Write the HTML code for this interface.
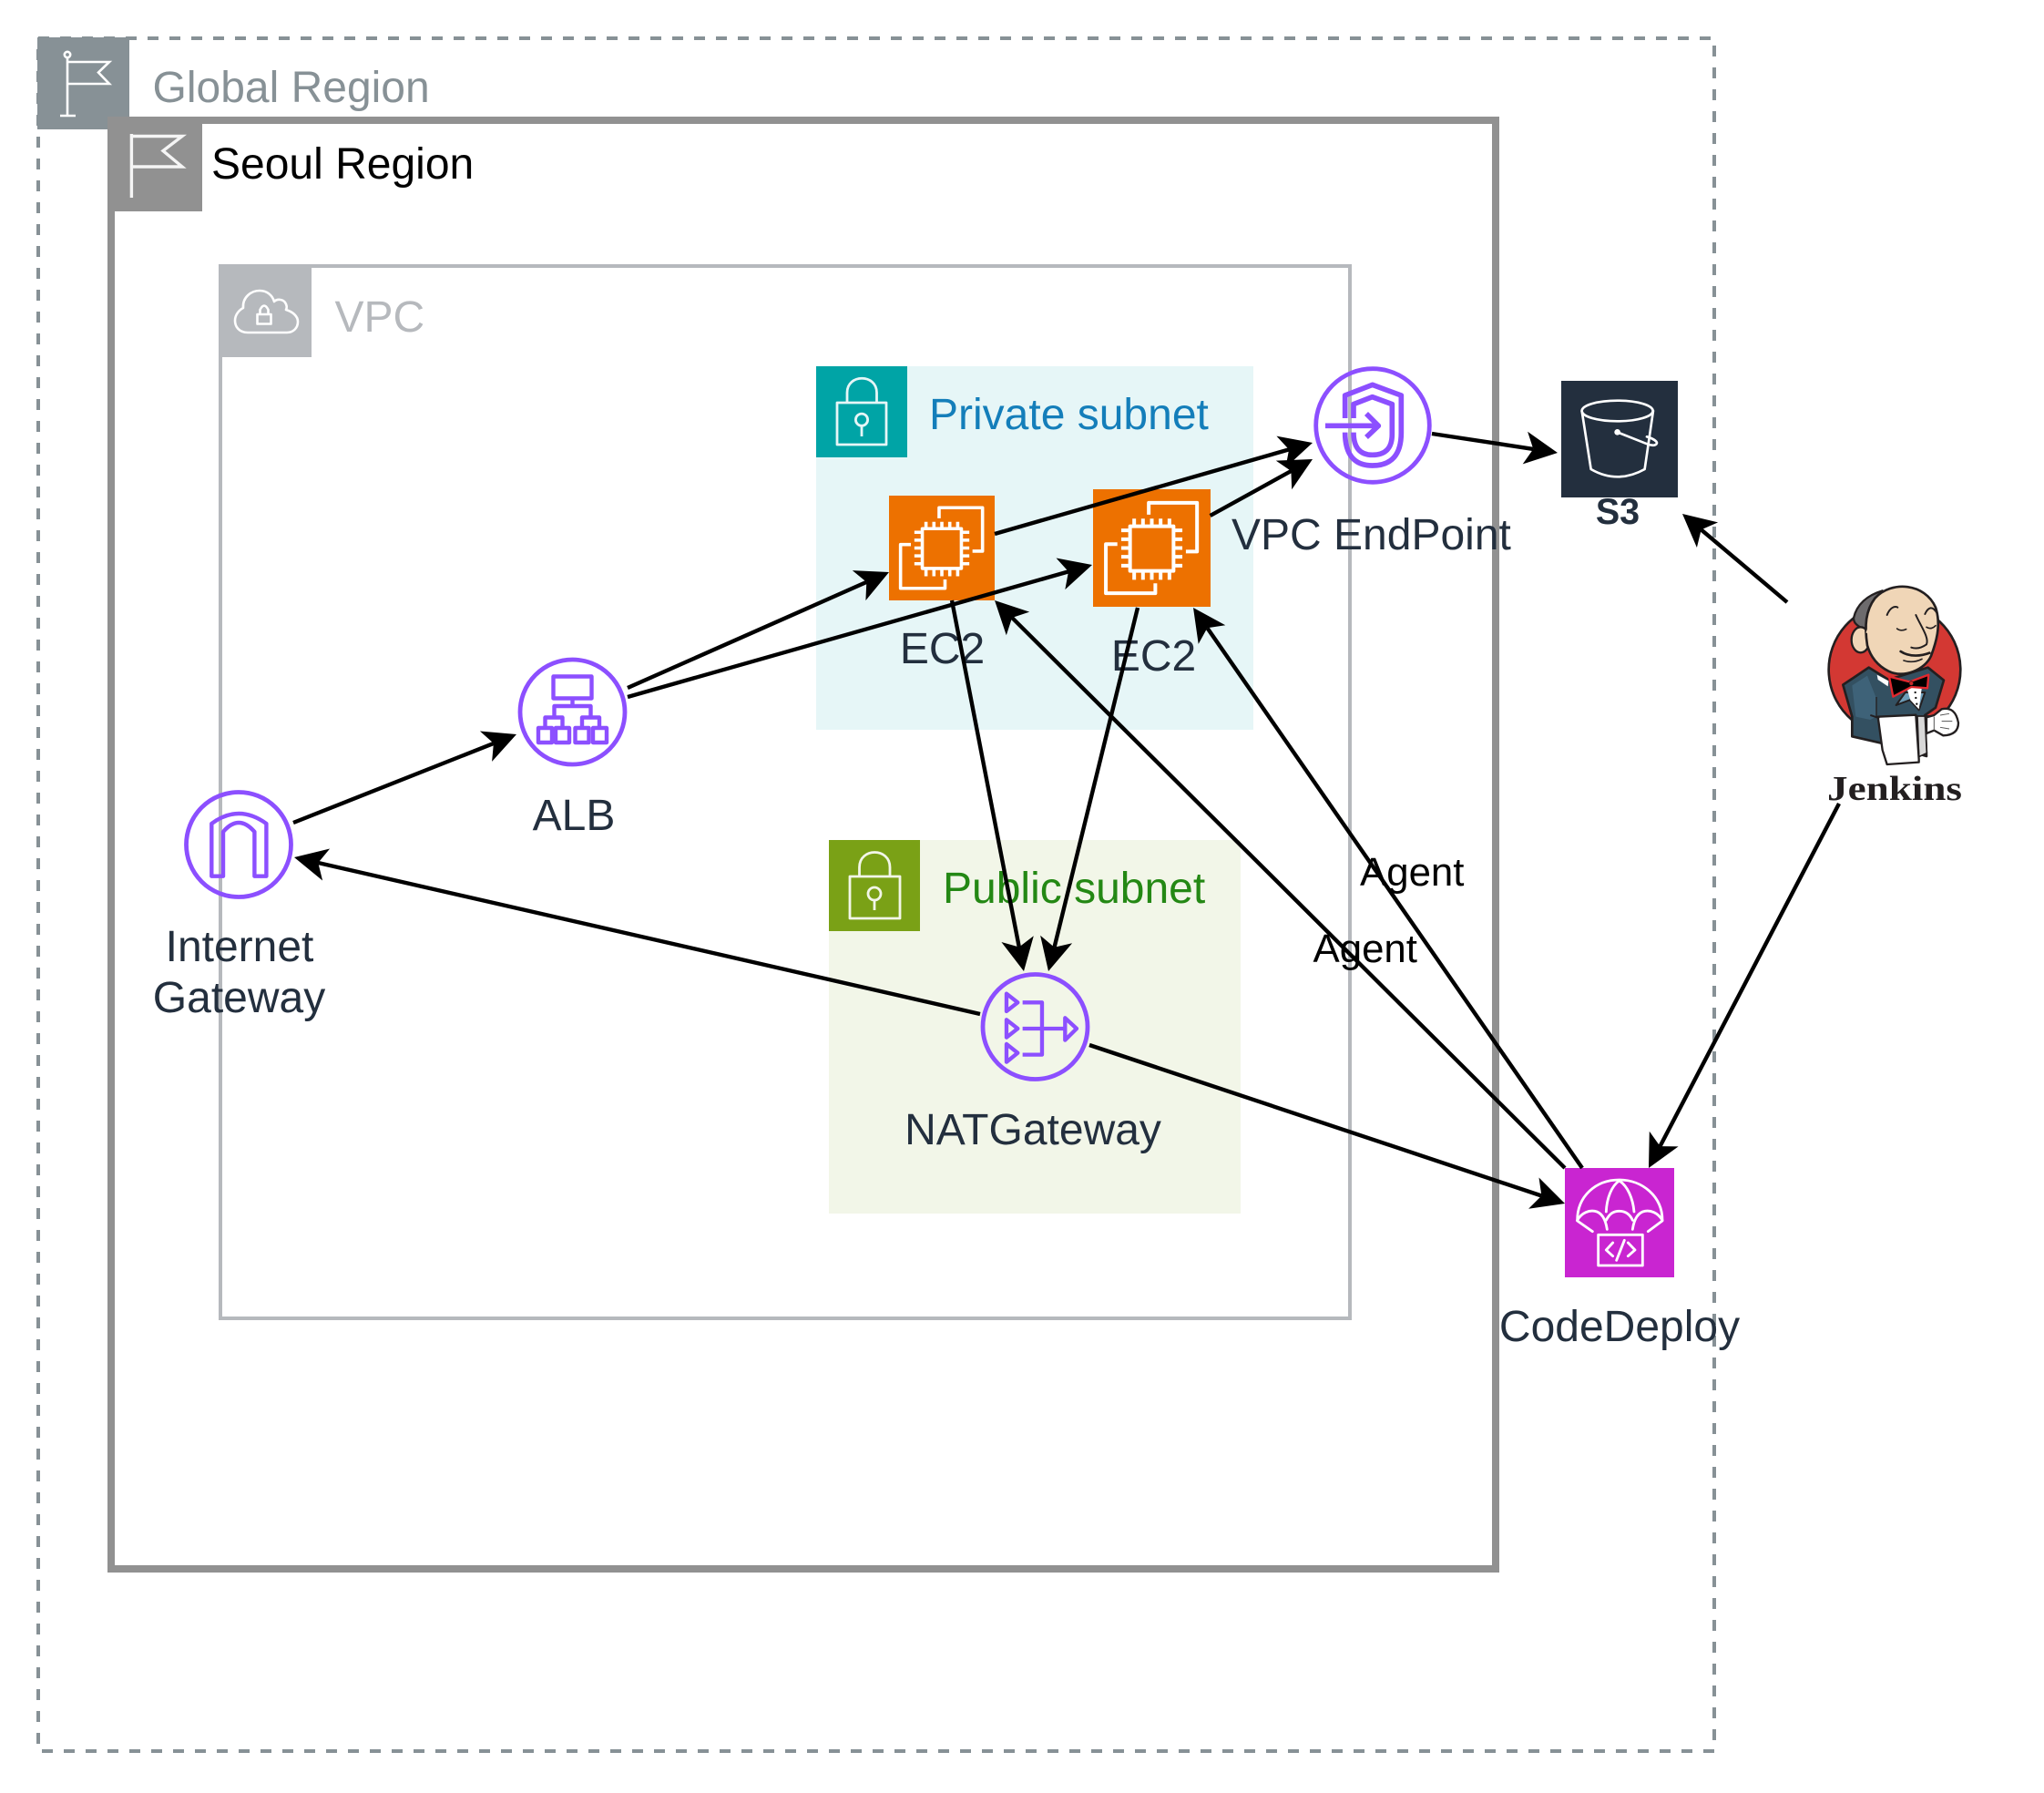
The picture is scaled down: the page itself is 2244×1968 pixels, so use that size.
<!DOCTYPE html>
<html lang="en">
<head>
<meta charset="utf-8">
<title>AWS Architecture Diagram</title>
<style>
html,body{margin:0;padding:0;background:#fff;width:2244px;height:1968px;overflow:hidden}
svg{display:block}
text{font-family:"Liberation Sans",Arial,sans-serif;font-size:48px}
.d{fill:#232F3E}
.c{text-anchor:middle}
.ln{stroke:#000;stroke-width:4.4;fill:none}
.hd{fill:#000;stroke:none}
.p{fill:none;stroke:#8C4FFF;stroke-linejoin:round;stroke-linecap:butt}
.w{fill:none;stroke:#fff;stroke-linejoin:round;stroke-linecap:round}
</style>
</head>
<body>
<svg xmlns="http://www.w3.org/2000/svg" width="2244" height="1968" viewBox="0 0 2244 1968">
<rect width="2244" height="1968" fill="#fff"/>
<defs>
<g id="ec2" fill="none" stroke="#fff" stroke-width="3.1" stroke-linejoin="round">
<rect x="31.5" y="31.5" width="37" height="38"/>
<path d="M47.4,21.6V11.5H88.5V53H79M20.7,46.7H10.9V88.5H53V80"/>
<path d="M35,31V25M42.5,31V25M50,31V25M57.5,31V25M65,31V25M35,70V77M42.5,70V77M50,70V77M57.5,70V77M65,70V77M31,35H24M31,42.5H24M31,50H24M31,57.5H24M31,65H24M69,35H76M69,42.5H76M69,50H76M69,57.5H76M69,65H76"/>
</g>
</defs>

<!-- Global Region -->
<rect x="42" y="42" width="1840" height="1880" fill="none" stroke="#879196" stroke-width="4" stroke-dasharray="12 12"/>
<rect x="41" y="41" width="101" height="101" fill="#879196"/>
<g fill="none" stroke="#fff" stroke-width="2.6">
<circle cx="74" cy="60" r="3.2"/>
<path d="M74,63V127M66,127H83M74,68H120L108,79.5L120,92H74"/>
</g>
<text x="167.500" y="112" fill="#879196">Global Region</text>

<!-- Seoul Region -->
<rect x="122" y="132" width="1520" height="1590" fill="none" stroke="#919191" stroke-width="8"/>
<rect x="118" y="128" width="104" height="104" fill="#919191"/>
<path d="M144.4,217V147M144.4,149.5H200L179,165.5L200,183H144.4" fill="none" stroke="#f5f5f5" stroke-width="3.4"/>
<text x="232" y="196" fill="#000">Seoul Region</text>

<!-- VPC -->
<rect x="242" y="292" width="1240" height="1155" fill="none" stroke="#B6B9BD" stroke-width="4"/>
<rect x="240" y="290" width="102" height="102" fill="#B6B9BD"/>
<g fill="none" stroke="#fff" stroke-width="2.6" stroke-linejoin="round">
<path d="M272,365C262,365 258,358 258,352C258,345 263,340 267,338C266,326 276,319 285,319C293,319 299,324 301,331C304,328 310,328 313,332C315,335 315,338 314,340C321,342 327,347 327,353C327,360 322,365 315,365Z"/>
<rect x="282.5" y="345" width="15" height="10.5"/>
<path d="M285.5,345V340Q290,331 294.5,340V345"/>
</g>
<text x="367.500" y="364" fill="#B6B9BD">VPC</text>

<!-- Private subnet -->
<rect x="896" y="402" width="480" height="399" fill="#E6F6F7"/>
<rect x="896" y="402" width="100" height="100" fill="#00A4A6"/>
<g fill="none" stroke="#E6F6F7" stroke-width="2.8" stroke-linejoin="round">
<rect x="919" y="442" width="54" height="46"/>
<path d="M930,442V431C930,410 962.500,410 962.500,431V442"/>
<circle cx="946" cy="460.700" r="6.600"/>
<path d="M946,467.300V479"/>
</g>
<text x="1020" y="471" fill="#147EBA">Private subnet</text>

<!-- Public subnet -->
<rect x="910" y="922" width="452" height="410" fill="#F2F6E8"/>
<rect x="910" y="922" width="100" height="100" fill="#7AA116"/>
<g fill="none" stroke="#F2F6E8" stroke-width="2.8" stroke-linejoin="round">
<rect x="933" y="962" width="55" height="46"/>
<path d="M943.500,962V952C943.500,930 977,930 977,952V962"/>
<circle cx="960" cy="981" r="7"/>
<path d="M960,988V999"/>
</g>
<text x="1035" y="991" fill="#248814">Public subnet</text>

<!-- EC2 -->
<rect x="976" y="544" width="116" height="115" fill="#ED7100"/>
<use href="#ec2" transform="translate(976,544) scale(1.16,1.15)"/>
<rect x="1200" y="537" width="129" height="129" fill="#ED7100"/>
<use href="#ec2" transform="translate(1200,537) scale(1.29,1.29)"/>
<text x="1034.500" y="728" class="d c">EC2</text>
<text x="1266.500" y="736" class="d c">EC2</text>

<!-- VPC Endpoint -->
<circle cx="1507" cy="467" r="62.300" fill="none" stroke="#8C4FFF" stroke-width="4.800"/>
<g transform="translate(1400,380) scale(0.3333)">
<path class="p" stroke-width="17" d="M230,237V162L320,127L415,162V285Q415,393 320,393Q230,393 230,284"/>
<path class="p" stroke-width="17" d="M258,237V191L320,167L385,191V290Q385,358 320,358Q258,358 258,284"/>
<path class="p" stroke-width="17" d="M165,262H335M300,222L340,262L300,300"/>
</g>
<text x="1352" y="603" class="d">VPC EndPoint</text>

<!-- S3 -->
<rect x="1714" y="418" width="128" height="128" fill="#232F3E"/>
<g transform="translate(1400,380) scale(0.3333)">
<g class="w" stroke-width="8">
<ellipse cx="1127" cy="213" rx="117" ry="34"/>
<path d="M1010,213L1040,405Q1127,455 1217,405L1245,213"/>
<path d="M1127,283L1225,322C1250,332 1262,322 1255,314C1248,306 1232,300 1224,298"/>
</g>
<circle cx="1127" cy="283" r="10" fill="#fff"/>
</g>
<text x="1776" y="575" class="c" style="font-size:39.500px;font-weight:bold" fill="#232F3E">S3</text>

<!-- ALB -->
<ellipse cx="628.500" cy="781.500" rx="57.500" ry="57.500" fill="none" stroke="#8C4FFF" stroke-width="4.800"/>
<g class="p" stroke-width="4.400">
<rect x="607.500" y="742.500" width="42" height="24"/>
<path d="M628.500,766.500V775M608.500,787V775H648.500V787M598.500,799V787.500H617.500V799M639,799V787.500H658V799"/>
<rect x="591" y="799" width="15" height="16"/>
<rect x="610" y="799" width="15" height="16"/>
<rect x="631.500" y="799" width="15" height="16"/>
<rect x="651" y="799" width="15" height="16"/>
</g>
<text x="630" y="911" class="d c">ALB</text>

<!-- Internet Gateway -->
<ellipse cx="262" cy="927" rx="57.500" ry="57.500" fill="none" stroke="#8C4FFF" stroke-width="4.800"/>
<path class="p" stroke-width="4.400" d="M232.300,961.700V904Q262,882 292.400,904V961.700H279.400V913Q262,893 245,913V961.700Z"/>
<text x="263" y="1055" class="d c">Internet</text>
<text x="262.500" y="1111" class="d c">Gateway</text>

<!-- NAT Gateway -->
<circle cx="1136.500" cy="1127" r="57.500" fill="none" stroke="#8C4FFF" stroke-width="4.800"/>
<g transform="translate(900,920) scale(0.3333)" class="p" stroke-width="13">
<path d="M615,512L652,541L615,570Z"/>
<path d="M615,598L652,627L615,656Z"/>
<path d="M615,678L652,707L615,737Z"/>
<path d="M668,541H732V713H668M668,627H805"/>
<path d="M808,592L846,627L808,665Z"/>
</g>
<text x="1134" y="1256" class="d c">NATGateway</text>

<!-- CodeDeploy -->
<rect x="1718" y="1282" width="120" height="120" fill="#C925D1"/>
<g transform="translate(1680,1240) scale(0.3333)" class="w" stroke-width="8.500">
<path d="M155,298C155,220 215,165 293,165C370,165 435,220 435,298"/>
<path d="M155,298C170,272 195,265 212,268C235,272 248,295 253,328M250,298C262,275 275,268 293,268C312,268 328,278 337,298M337,328C342,295 355,272 378,268C395,265 420,272 435,298"/>
<path d="M250,270C252,225 268,185 293,168C320,185 338,225 342,270"/>
<path d="M155,300L205,335M435,300L388,335"/>
<rect x="224" y="346" width="146" height="101"/>
<path d="M272,372L250,396L272,416M322,372L345,396L322,416M310,364L284,430"/>
</g>
<text x="1778" y="1472" class="d c">CodeDeploy</text>

<!-- Jenkins -->
<g transform="translate(1950,620) scale(0.3333)">
<path d="M250,511A217,217 0 1 1 545,497Z" fill="#D33833" stroke="#231F20" stroke-width="8"/>
<path d="M220,395L305,338L370,378L500,338L552,380L525,470L490,495L495,630L360,590L250,565L250,500Z" fill="#335061" stroke="#231F20" stroke-width="8" stroke-linejoin="round"/>
<path d="M250,397L300,365L330,440L330,500L310,510L262,500Z" fill="#3E6278"/>
<path d="M332,362L370,382L368,400L335,378Z" fill="#fff"/>
<path d="M395,462L425,420H490L470,478L440,445Z" fill="#6D9DB8" stroke="#231F20" stroke-width="6" stroke-linejoin="round"/>
<path d="M430,405L480,402L470,475L442,445Z" fill="#fff"/>
<circle cx="458" cy="420" r="3.500" fill="#111"/><circle cx="460" cy="438" r="3.500" fill="#111"/><circle cx="463" cy="458" r="3.500" fill="#111"/>
<path d="M372,368L440,385L502,362L498,406L445,402L385,434Z" fill="#000" stroke="#E1282E" stroke-width="7" stroke-linejoin="round"/>
<circle cx="445" cy="390" r="7" fill="#C92A2A" stroke="#111" stroke-width="2"/>
<path d="M465,498L490,498L496,620L470,632Z" fill="#D8D8D8" stroke="#231F20" stroke-width="5"/>
<path d="M335,500L460,494L470,640L470,650L365,657L350,610Z" fill="#fff" stroke="#231F20" stroke-width="7" stroke-linejoin="round"/>
<path d="M495,502L520,495L545,475Q590,465 600,520Q600,560 550,562L520,545L495,555Z" fill="#fff" stroke="#231F20" stroke-width="7" stroke-linejoin="round"/>
<path d="M540,495L570,490M545,515L580,515M540,535L570,540M520,500V545" fill="none" stroke="#555" stroke-width="3"/>
<path d="M310,495L340,505" stroke="#231F20" stroke-width="6"/>
<path d="M330,435V500" stroke="#231F20" stroke-width="4"/>
<path d="M255,175C265,130 300,100 350,85L325,120L320,232L285,210C265,200 255,190 255,175Z" fill="#6D6B6D" stroke="#231F20" stroke-width="7" stroke-linejoin="round"/>
<ellipse cx="278" cy="247" rx="30" ry="42" fill="#F0D6B7" stroke="#231F20" stroke-width="7"/>
<path d="M325,110C380,50 490,60 525,140C545,200 525,260 510,300C490,345 420,375 370,350C330,330 310,300 300,265C290,200 295,150 325,110Z" fill="#F0D6B7" stroke="#231F20" stroke-width="8" stroke-linejoin="round"/>
<path d="M300,225L318,180" stroke="#F0D6B7" stroke-width="10"/>
<g fill="none" stroke="#231F20" stroke-linecap="round">
<path stroke-width="6" d="M365,165C375,140 390,135 400,140M490,162C500,140 515,132 530,160"/>
<path stroke-width="5" d="M398,210Q410,220 428,212M495,205Q510,215 525,200"/>
<path stroke-width="6" d="M460,165C475,200 505,240 495,262Q470,280 445,272"/>
<path stroke-width="8" d="M410,285C440,305 480,300 505,290"/>
<path stroke-width="5" d="M420,315Q450,325 480,310"/>
</g>
</g>
<text x="2006" y="878" fill="#231F20" textLength="148" lengthAdjust="spacingAndGlyphs" style="font-family:'Liberation Serif',serif;font-weight:bold;font-size:38px">Jenkins</text>

<!-- Agent labels -->
<text x="1493" y="972" fill="#000" style="font-size:43.800px">Agent</text>
<text x="1441.500" y="1056" fill="#000" style="font-size:43.800px">Agent</text>

<!-- Connectors -->
<g class="ln">
<path d="M322,903L541.900,815.900"/>
<path d="M1076,1113L349.300,947"/>
<path d="M689,755L951.300,638.900"/>
<path d="M689,765L1173,627.400"/>
<path d="M1092,586L1415.100,493.400"/>
<path d="M1328.600,566L1417.400,517"/>
<path d="M1572,476L1683.300,492.900"/>
<path d="M1962,661L1867.700,581.400"/>
<path d="M2019,882L1822.500,1258.100"/>
<path d="M1196,1147L1692.400,1312.500"/>
<path d="M1718,1282L1111.100,678"/>
<path d="M1737,1282L1325.400,689.200"/>
<path d="M1045,659L1118.800,1039.500"/>
<path d="M1249,667L1157.500,1039.800"/>
</g>
<g class="hd">
<polygon points="567,806 526.900,802.500 541.900,815.900 540.100,835.900"/>
<polygon points="323,941 362.100,931.500 349.300,947 354.100,966.500"/>
<polygon points="976,628 935.800,626.100 951.300,638.900 950.400,659.100"/>
<polygon points="1199,620 1159.500,612.500 1173,627.400 1169.300,647.100"/>
<polygon points="1441,486 1401.400,478.600 1415.100,493.400 1411.400,513.200"/>
<polygon points="1441,504 1400.800,505.600 1417.400,517 1418.200,537.200"/>
<polygon points="1710,497 1677.100,473.800 1683.300,492.900 1671.700,509.400"/>
<polygon points="1847,564 1886.100,573.400 1867.700,581.400 1862.900,601"/>
<polygon points="1810,1282 1842.600,1258.400 1822.500,1258.100 1810.800,1241.800"/>
<polygon points="1718,1321 1689.500,1292.500 1692.400,1312.500 1678.100,1326.700"/>
<polygon points="1092,659 1130.200,671.600 1111.100,678 1104.800,697.200"/>
<polygon points="1310,667 1345.300,686.300 1325.400,689.200 1315.700,706.900"/>
<polygon points="1124,1066 1099.400,1034 1118.800,1039.500 1134.800,1027.200"/>
<polygon points="1151,1066 1142.100,1026.700 1157.500,1039.800 1177.100,1035.300"/>
</g>
</svg>
</body>
</html>
